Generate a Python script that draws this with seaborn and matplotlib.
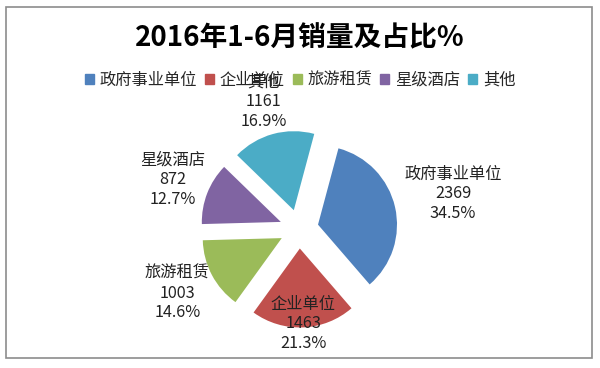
import matplotlib
matplotlib.use("Agg")
import matplotlib.pyplot as plt
import matplotlib.patches as mpatches
import seaborn as sns
import numpy as np

# data
categories = ["政府事业单位", "企业单位", "旅游租赁", "星级酒店", "其他"]
sales = [2369, 1463, 1003, 872, 1161]
colors = ["#4F81BD", "#C0504D", "#9BBB59", "#8064A2", "#4BACC6"]
title = "2016年1-6月销量及占比%"

# layout (pixel units, y measured upward from bottom)
W, H = 600, 368
cx, cy, R = 299, 139, 79
explode_px = 19.5
label_dist = [2.0, 1.2, 1.74, 1.71, 1.67]

sns.set_theme(style="white")
plt.rcParams['font.family'] = ['Noto Sans CJK SC', 'DejaVu Sans']

fig = plt.figure(figsize=(W / 100, H / 100), dpi=100)
ax = fig.add_axes([0, 0, 1, 1])

wedges, _ = ax.pie(sales, colors=sns.color_palette(colors), startangle=75,
                   counterclock=False, center=(cx, cy), radius=R,
                   explode=[explode_px] * len(sales),
                   wedgeprops=dict(linewidth=0))
ax.set_xlim(0, W)
ax.set_ylim(0, H)
ax.set_aspect('auto')
ax.axis('off')

total = sum(sales)
for w, name, v, d in zip(wedges, categories, sales, label_dist):
    ang = np.deg2rad((w.theta1 + w.theta2) / 2)
    x = cx + d * R * np.cos(ang)
    y = cy + d * R * np.sin(ang)
    ax.text(x, y, f"{name}\n{v}\n{v / total * 100:.1f}%", ha='center', va='center',
            fontsize=11.7, color='#222222', linespacing=1.2, zorder=5)

fig.text(0.5, 1 - 38 / H, title, ha='center', va='center', fontsize=20,
         fontweight='bold', color='black')

handles = [mpatches.Patch(color=c) for c in colors]
fig.legend(handles, categories, loc='center', bbox_to_anchor=(0.5, 1 - 80 / H),
           ncol=5, frameon=False, fontsize=11.7, handlelength=0.55, handleheight=0.55,
           handletextpad=0.35, columnspacing=0.5, borderaxespad=0)

# chart frame
fig.patches.append(mpatches.Rectangle((6 / W, 1 - 358 / H), 586 / W, 351 / H,
                                      transform=fig.transFigure, fill=False,
                                      edgecolor='#8c8c8c', linewidth=1.2))

fig.savefig("out.png", dpi=100, facecolor='white')
